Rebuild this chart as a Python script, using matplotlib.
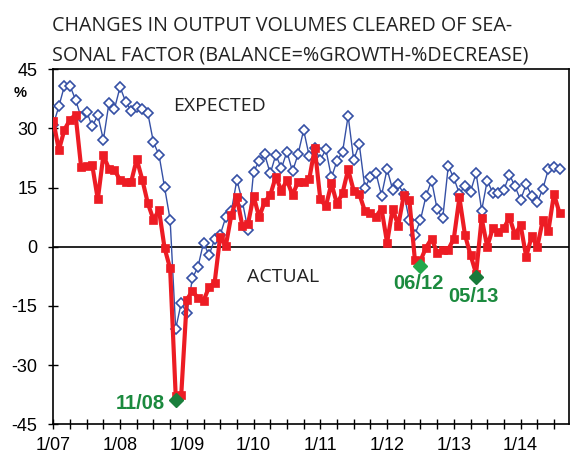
import matplotlib
matplotlib.use('Agg')
import matplotlib.pyplot as plt
import numpy as np

# ---- data (monthly, 1/07 .. 8/14) ----
actual = [32.0, 24.5, 29.7, 32.2, 33.5, 20.2, 20.5, 20.7, 12.0, 23.2,
          19.8, 19.5, 16.9, 16.5, 16.5, 22.2, 17.0, 11.0, 6.9, 9.3,
          -0.3, -5.5, -37.7, -37.5, -13.4, -11.2, -13.0, -13.7, -10.2, -9.1,
          2.6, 0.2, 8.0, 12.5, 5.2, 5.8, 12.9, 7.5, 11.4, 13.1,
          17.8, 14.2, 16.9, 13.1, 16.5, 16.5, 17.1, 25.0, 12.0, 10.3,
          16.1, 10.8, 13.7, 19.6, 14.2, 13.4, 9.1, 8.5, 7.6, 9.7,
          1.0, 9.7, 5.3, 13.1, 11.9, -3.4, -3.5, -0.2, 2.1, -1.5,
          -0.8, -0.7, 2.1, 12.5, 3.0, -2.1, -6.8, 7.2, 0.0, 4.7,
          3.8, 4.7, 7.5, 3.0, 5.5, -2.5, 2.7, 0.0, 6.8, 4.1,
          13.4, 8.5]
expected = [31.0, 35.6, 40.8, 40.8, 37.3, 32.8, 34.3, 30.5, 33.4, 27.1,
            36.4, 35.0, 40.5, 36.8, 34.5, 35.5, 35.0, 33.8, 26.5, 23.3,
            15.1, 6.9, -20.8, -14.2, -16.9, -8.0, -5.1, 1.0, -2.1, 1.9,
            3.0, 7.5, 9.0, 17.0, 11.4, 4.2, 19.0, 21.8, 23.4, 18.6,
            23.3, 19.9, 24.1, 19.1, 23.5, 29.6, 23.0, 25.0, 22.0, 24.7,
            17.6, 21.8, 24.1, 33.2, 22.0, 26.0, 15.0, 17.6, 18.7, 13.0,
            19.7, 14.5, 15.8, 13.5, 6.8, 3.1, 6.8, 12.9, 16.8, 9.5,
            7.2, 20.5, 17.4, 13.5, 15.4, 14.0, 18.7, 9.2, 16.8, 13.7,
            13.7, 14.4, 18.3, 15.3, 11.9, 15.8, 12.9, 11.3, 14.7, 19.7,
            20.2, 19.8]
months = np.arange(len(actual))

year_labels = ['1/07', '1/08', '1/09', '1/10', '1/11', '1/12', '1/13', '1/14']
y_ticks = [45, 30, 15, 0, -15, -30, -45]

low_idx = [22, 66, 76]
low_val = [-38.9, -4.8, -7.6]
low_labels = ['11/08', '06/12', '05/13']
low_colors = ['#1A7F3C', '#22A84B', '#187A3A']

RED = '#ED1C24'
BLUE = '#3550A5'
GREEN = '#1B8A3E'

W, H = 571, 461
fig = plt.figure(figsize=(W / 100, H / 100), dpi=100)
L, R, T, B = 53.3, 569.0, 69.3, 424.3
ax = fig.add_axes([L / W, (H - B) / H, (R - L) / W, (B - T) / H])

ax.axhline(0, color='black', lw=1.2, zorder=2)
ax.plot(months, expected, color=BLUE, lw=1.0, marker='D', ms=4.8,
        mfc='white', mec=BLUE, mew=1.2, zorder=3)
ax.plot(months, actual, color=RED, lw=3.0, marker='s', ms=5.6,
        mfc=RED, mec=RED, mew=0.5, zorder=4)
for xi, yi, c in zip(low_idx, low_val, low_colors):
    ax.plot([xi], [yi], linestyle='none', marker='D', ms=7,
            mfc=c, mec=c, zorder=5)

tfont = dict(family='Liberation Sans', weight='bold', size=14.5, color=GREEN)
ax.annotate(low_labels[0], (low_idx[0], low_val[0]), xytext=(-7.5, -2),
            textcoords='offset points', ha='right', va='center', **tfont)
ax.annotate(low_labels[1], (low_idx[1], low_val[1]), xytext=(-1.5, -13),
            textcoords='offset points', ha='center', va='center', **tfont)
ax.annotate(low_labels[2], (low_idx[2], low_val[2]), xytext=(-2, -14),
            textcoords='offset points', ha='center', va='center', **tfont)

ax.set_xlim(0, 92.7)
ax.set_ylim(-45, 45)
ax.set_yticks(y_ticks)
ax.set_yticklabels([str(v) for v in y_ticks])
ax.set_xticks(np.arange(0, 12 * len(year_labels), 12))
ax.set_xticklabels(year_labels)
ax.set_xticks(np.arange(0, 93, 3), minor=True)
for sp in ax.spines.values():
    sp.set_linewidth(1.2)
    sp.set_color('black')
ax.tick_params(axis='both', which='both', direction='inout', length=7,
               width=1.0, labelsize=13)
ax.tick_params(axis='y', pad=8)
ax.tick_params(axis='x', pad=6)
for lab in ax.get_xticklabels() + ax.get_yticklabels():
    lab.set_family('Liberation Sans')

title_font = dict(family='Open Sans', size=14.2, color='#222222')
fig.text(51.7 / W, (H - 31) / H, 'CHANGES IN OUTPUT VOLUMES CLEARED OF SEA-',
         ha='left', va='baseline', **title_font)
fig.text(51.7 / W, (H - 60.7) / H, 'SONAL FACTOR (BALANCE=%GROWTH-%DECREASE)',
         ha='left', va='baseline', **title_font)
fig.text(20 / W, (H - 93) / H, '%', ha='center', va='center',
         family='Liberation Sans', weight='bold', size=10.5)
fig.text(172.7 / W, (H - 111) / H, 'EXPECTED', ha='left', va='baseline',
         family='Open Sans', size=14, color='#222222')
fig.text(246.7 / W, (H - 281.7) / H, 'ACTUAL', ha='left', va='baseline',
         family='Open Sans', size=14, color='#222222')

fig.savefig('out.png', dpi=100)
